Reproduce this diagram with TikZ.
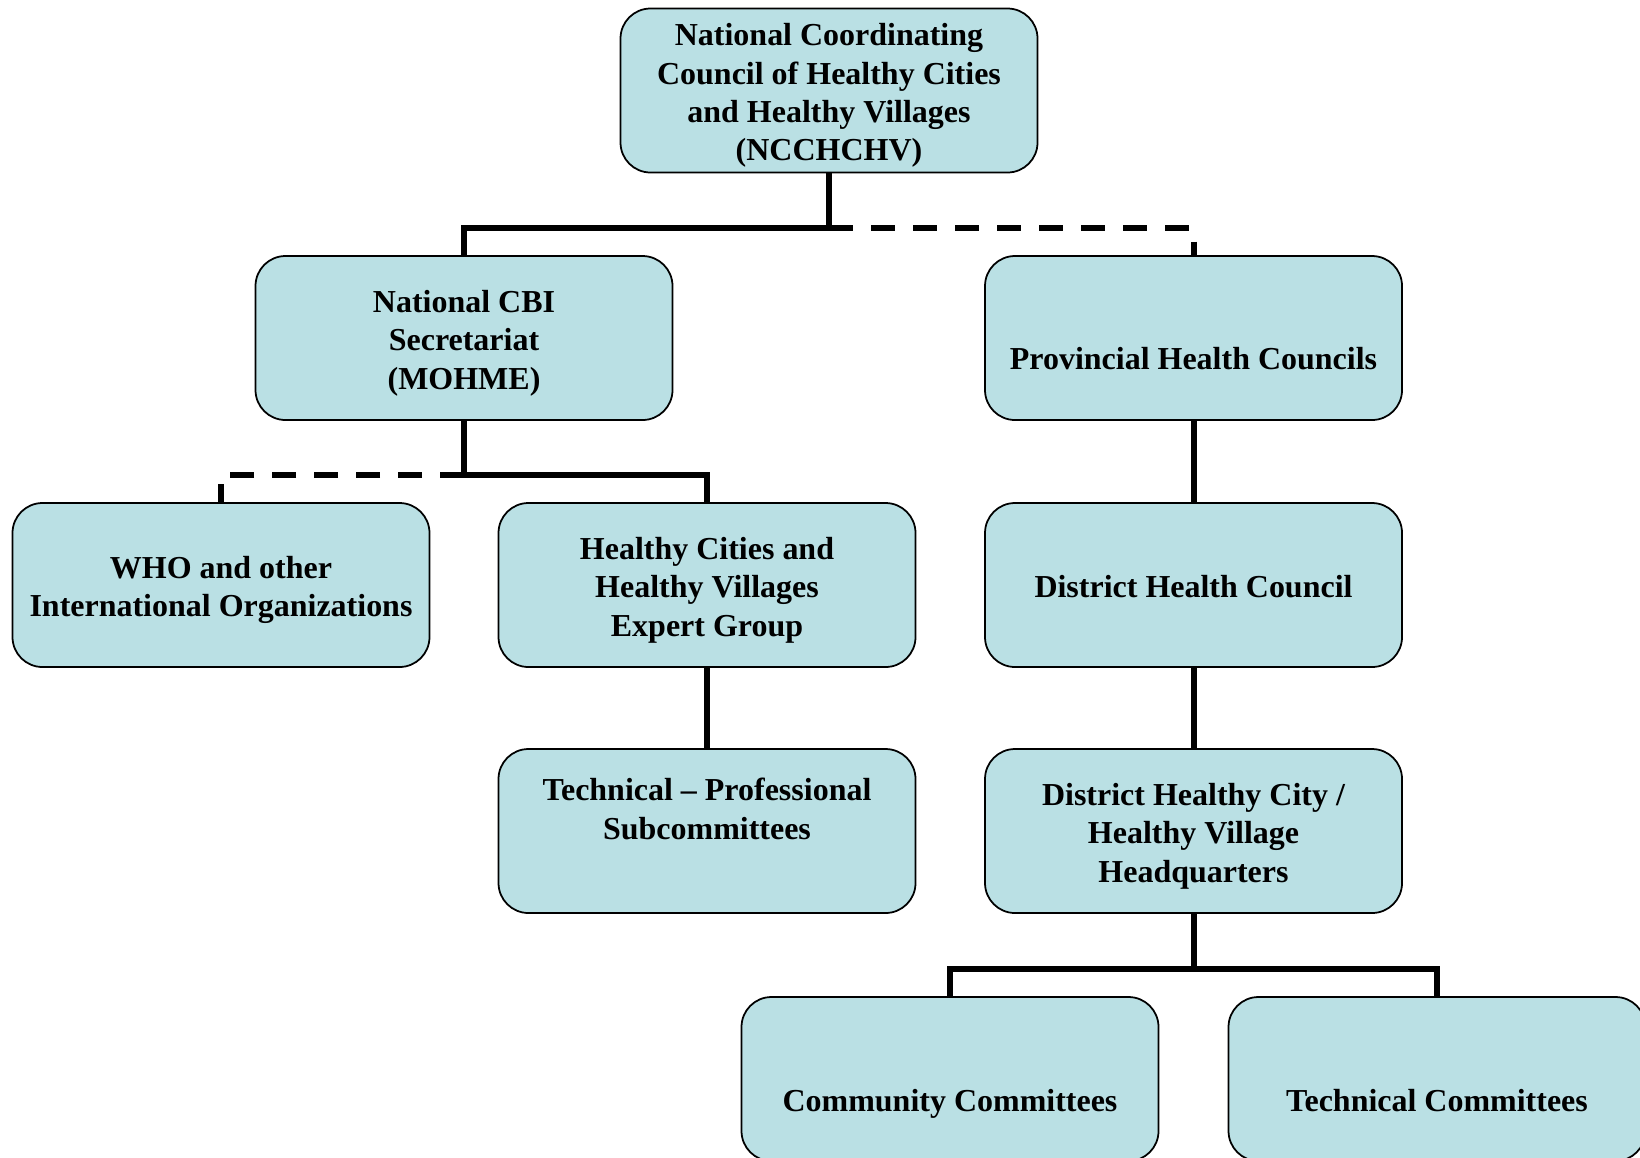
\documentclass[tikz,border=0pt]{standalone}
\usepackage{fontspec}
\setmainfont{Liberation Serif}
\usepackage{tikz}
\definecolor{boxteal}{RGB}{186,224,228}
\newcommand{\boxtop}{\rule{0pt}{19.5pt}}
\newcommand{\boxbot}{\rule[-5pt]{0pt}{0pt}}
\tikzset{
	unit/.style={draw=black, line width=1pt, fill=boxteal, rounded corners=0.6cm,
		minimum width=8.34cm, minimum height=3.28cm, align=center, inner sep=0pt,
		font=\fontsize{18.2}{21.9}\selectfont\bfseries},
	link/.style={line width=3.4pt},
	weaklink/.style={line width=3.4pt, dash pattern=on 0.48cm off 0.36cm}
}
\begin{document}
\begin{tikzpicture}
		\useasboundingbox (0,0) rectangle (32.8,-23.14);
		\node[unit] (ncc) at (16.58,-1.81) {\boxtop National Coordinating\\Council of Healthy Cities\\and Healthy Villages\\(NCCHCHV)\boxbot};
		\node[unit] (cbi) at (9.28,-6.76) {\boxtop National CBI\\Secretariat\\(MOHME)\boxbot};
		\node[unit] (prov) at (23.87,-6.76) {\boxtop\\Provincial Health Councils\boxbot};
		\node[unit] (who) at (4.42,-11.70) {\boxtop WHO and other\\International Organizations\boxbot};
		\node[unit] (expert) at (14.14,-11.70) {\boxtop Healthy Cities and\\Healthy Villages\\Expert Group\boxbot};
		\node[unit] (dhc) at (23.87,-11.70) {\boxtop District Health Council\boxbot};
		\node[unit] (subcom) at (14.14,-16.62) {\boxtop Technical -- Professional\\Subcommittees\\[5pt]\boxbot};
		\node[unit] (hq) at (23.87,-16.62) {\boxtop District Healthy City /\\Healthy Village\\Headquarters\boxbot};
		\node[unit] (comm) at (19.00,-21.58) {\boxtop\\Community Committees\boxbot};
		\node[unit] (tech) at (28.74,-21.58) {\boxtop\\Technical Committees\boxbot};
		% junctions
		\coordinate (J1) at (16.58,-4.56);
		\coordinate (J2) at (9.28,-9.50);
		\coordinate (J3) at (23.87,-19.38);
		\draw[link] (ncc.south) -- (J1) -| (cbi.north);
		\draw[weaklink] (J1) -| (prov.north);
		\draw[link] (cbi.south) -- (J2) -| (expert.north);
		\draw[weaklink] (J2) -| (who.north);
		\draw[link] (prov.south) -- (dhc.north);
		\draw[link] (dhc.south) -- (hq.north);
		\draw[link] (expert.south) -- (subcom.north);
		\draw[link] (hq.south) -- (J3) -| (comm.north);
		\draw[link] (J3) -| (tech.north);
		\end{tikzpicture}
\end{document}
